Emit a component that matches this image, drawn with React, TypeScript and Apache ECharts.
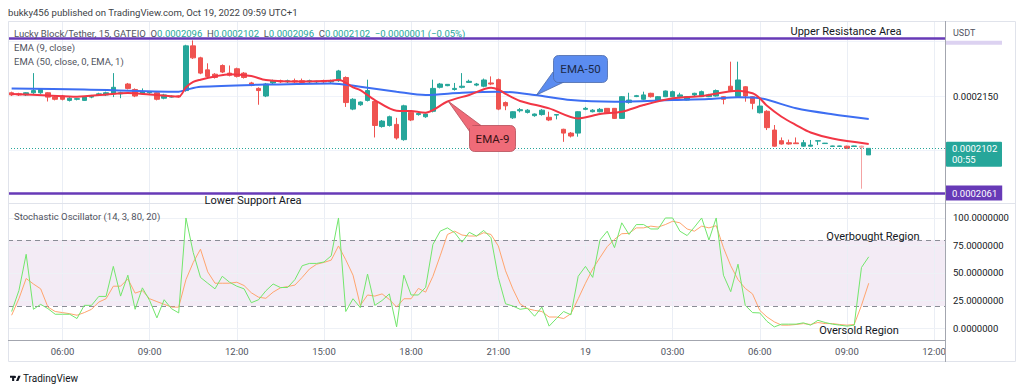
import React, { useEffect, useRef } from "react";
import * as echarts from "echarts";

// ---------- data (prices in units of 0.0000001 USDT) ----------
const N_CATS = 129; // 15-minute slots starting Oct 18 04:15
const candles: number[][] = [
  [2153, 2151, 2150, 2154], [2152, 2151, 2150, 2153], [2151, 2153, 2150, 2153.5], [2153, 2155, 2152, 2171],
  [2153, 2156, 2152, 2157], [2153, 2149, 2145, 2153.5], [2149, 2147, 2146, 2150], [2150, 2147, 2146, 2151],
  [2146, 2148, 2145, 2149], [2147, 2147.6, 2146, 2148], [2146, 2149, 2145.5, 2150], [2149, 2150, 2148, 2151],
  [2151, 2152, 2150, 2153], [2151, 2153, 2150, 2154], [2152, 2158, 2149, 2171], [2152, 2153, 2148, 2154],
  [2161, 2157, 2156, 2162], [2156, 2150, 2149, 2157], [2152, 2154, 2151, 2157], [2153, 2153.6, 2152, 2154],
  [2153, 2147, 2146, 2153.5], [2148, 2151, 2147, 2152], [2149, 2149.8, 2148.5, 2150.5], [2150, 2149.2, 2148.5, 2150.5],
  [2155, 2196, 2154, 2197], [2196, 2185, 2184, 2201], [2185, 2171, 2170, 2186], [2174, 2168, 2167, 2180],
  [2170, 2167, 2166, 2171], [2178, 2172, 2171, 2179], [2171, 2169, 2168, 2178], [2175, 2168, 2167, 2176],
  [2171, 2167, 2166, 2172], [2162, 2160, 2159, 2163], [2157, 2155, 2142, 2158], [2150, 2161, 2149, 2162],
  [2162, 2164, 2161, 2165], [2164, 2163, 2162, 2165], [2163, 2164, 2162, 2165], [2164, 2163, 2162, 2166],
  [2164, 2162.5, 2162, 2166], [2163, 2164, 2162, 2165], [2163, 2163.6, 2162, 2164], [2164, 2163, 2162, 2165],
  [2163, 2164, 2162, 2165], [2164, 2173, 2163, 2174], [2167, 2144, 2140, 2168], [2138, 2147, 2137, 2148],
  [2142, 2144.5, 2141, 2145], [2146, 2155, 2145, 2165], [2145, 2123, 2112, 2146], [2122, 2127, 2121, 2128],
  [2123, 2131, 2122, 2132], [2124, 2111.5, 2110, 2130], [2110, 2141, 2109, 2142], [2135, 2128, 2127, 2136],
  [2133, 2134, 2132, 2135], [2131, 2133.5, 2130, 2134], [2136, 2157, 2135, 2165], [2158, 2161, 2157, 2162],
  [2159.5, 2160.7, 2159, 2161], [2156, 2157, 2155, 2162], [2158, 2159, 2157, 2171], [2162.5, 2163.5, 2162, 2165],
  [2160, 2161, 2159, 2162], [2159, 2164.7, 2158, 2166], [2162, 2161, 2160, 2168], [2165, 2138, 2137, 2166],
  [2144, 2141, 2137, 2145], [2130, 2135.6, 2129, 2136], [2136.5, 2137.5, 2135, 2139], [2135, 2137, 2134, 2138],
  [2132, 2133.5, 2131, 2134], [2133, 2137, 2132, 2138], [2130.5, 2128, 2127, 2135.6], [2132.5, 2133, 2128.6, 2133.5],
  [2119.5, 2116, 2108, 2120], [2116, 2113.3, 2112, 2117], [2116, 2135.6, 2112.7, 2136], [2137.8, 2138.7, 2137, 2140],
  [2135.6, 2137, 2135, 2138], [2135.6, 2137.8, 2135, 2139], [2138.7, 2134.7, 2134, 2139], [2138.7, 2129.5, 2129, 2139],
  [2129.5, 2149.4, 2129, 2150], [2144, 2146.3, 2143, 2153], [2149.5, 2150.3, 2149, 2151], [2147, 2151, 2146, 2154],
  [2152.5, 2149.4, 2148.6, 2153], [2145.7, 2149.4, 2145, 2150], [2149.4, 2154.6, 2149, 2155], [2149.4, 2154, 2149, 2155],
  [2149.4, 2151, 2148, 2153], [2146.3, 2149.4, 2146, 2150], [2151, 2152.5, 2150, 2153], [2149.4, 2154, 2149, 2155],
  [2149.4, 2151, 2149, 2152], [2150, 2155, 2149.5, 2156], [2149.4, 2147, 2142.4, 2150], [2159, 2155, 2154, 2181.5],
  [2149.4, 2164.7, 2149, 2181.5], [2158.5, 2150, 2144.8, 2159], [2149.4, 2143.3, 2137.8, 2150], [2134.7, 2140.8, 2134, 2148],
  [2136, 2121, 2118.8, 2137], [2118.8, 2104, 2103.5, 2123.4], [2109, 2106, 2105.5, 2112], [2107.2, 2106, 2105.5, 2110],
  [2107, 2106.3, 2106, 2112], [2104, 2107.2, 2103.5, 2109.7], [2104, 2105, 2103.7, 2109.7], [2108.7, 2109, 2105, 2109.2],
  [2106.4, 2106.8, 2106.2, 2107], [2103.8, 2104.2, 2103.6, 2104.4], [2103.8, 2104.2, 2103.6, 2104.4], [2104, 2102, 2101.5, 2104.5],
  [2103.8, 2104.2, 2103.6, 2104.4], [2104, 2103, 2065, 2104.5], [2096, 2102, 2096, 2102],
];
const faintWickIdx = [117];

const ema9: number[][] = [
  [0, 2151.8], [5, 2150.5], [9, 2149.4], [13, 2151.4], [16, 2152.8], [19, 2151.4], [23, 2149.5], [24, 2158],
  [25, 2163], [26, 2165], [28, 2168], [30, 2170], [33, 2168.3], [35, 2164.7], [40, 2163.3], [44, 2164],
  [45, 2165], [47, 2158], [48, 2155.5], [50, 2146.3], [53, 2136.5], [55, 2136.2], [57, 2134.7], [58, 2137],
  [60, 2145], [63, 2151], [66, 2157.6], [67, 2156], [68, 2152], [70, 2145.5], [74, 2138.7], [78, 2129.5],
  [81, 2133.5], [84, 2135.6], [87, 2141.7], [91, 2147.9], [95, 2150], [100, 2154.9], [102, 2152.5], [103, 2148],
  [104, 2141], [106, 2131], [108, 2123.4], [110, 2116.5], [113, 2111], [118, 2106],
];

const ema50: number[][] = [
  [0, 2157], [10, 2156], [23, 2154], [24, 2155.7], [26, 2158.5], [35, 2160.5], [44, 2161.6], [48, 2158.5],
  [53, 2154], [57, 2151], [62, 2153], [67, 2154], [72, 2151], [77, 2146.3], [83, 2144.8], [91, 2146.3],
  [96, 2147.2], [100, 2148.8], [103, 2148], [108, 2138.7], [113, 2133.2], [118, 2129],
];

const stochK: number[] = [
  15, 34, 67, 17, 21.5, 17.6, 12.5, 12.5, 12.5, 8.6, 20.6, 20.6, 28.7, 28.7, 56, 29, 48, 17, 36.5, 25,
  9.2, 25.7, 17.6, 13.7, 100, 68.6, 46, 40.7, 35.6, 47, 41.6, 38, 35.6, 23, 25.7, 33.8, 40, 36.8, 36.8, 44,
  56.6, 58.7, 58.7, 60, 65.6, 100, 15, 26.6, 18.5, 49, 20.6, 25, 31, 1, 48, 30, 30, 37, 76, 88,
  91, 86.6, 78, 87, 83.6, 88.7, 82, 46, 22, 20, 17, 18, 10.7, 19, 1.7, 8.6, 15, 12, 47, 56,
  46, 80, 88, 73, 95.6, 85, 94, 94, 90, 90, 100, 100, 88, 84, 91.7, 100, 80, 100, 48, 33,
  58, 20.6, 14, 13.7, 6, 1, 3.5, 3.5, 3.5, 4.7, 2.6, 7, 5, 3.5, 2.6, 1.7, 2.6, 55, 64.7,
];

const stochD: number[] = [
  11.6, 26.6, 45, 40, 35.6, 19, 15, 14, 13, 11.6, 14, 17, 23.6, 26.6, 38, 38, 44.6, 31.7, 34, 26.6,
  24, 21.5, 19, 19, 44, 59.6, 71.6, 51, 40.7, 40.7, 40.7, 41.6, 38.6, 32, 28, 27, 32.6, 36.5, 37.7, 39,
  46, 53.6, 58, 59.6, 61.7, 74.6, 62, 48, 20.6, 30, 29, 31, 26, 19, 26.6, 26.6, 36, 32.6, 47, 65.6,
  85, 88, 84.5, 83.6, 83.6, 86.6, 85, 74.6, 52, 35.6, 22, 17.6, 16, 15, 10, 10, 8.6, 13, 26.6, 40.7,
  53.6, 64, 74, 80.6, 85.7, 86, 91, 91, 92.6, 91.7, 94, 97, 95.6, 90, 88, 92.6, 91, 93, 73, 56.6,
  44, 36, 31, 16, 10, 5.6, 2.6, 2.6, 3.2, 4, 3.2, 5, 4, 4, 3.2, 2.6, 3.2, 20.6, 40.7,
];

const timeTickIdx = [7, 19, 31, 43, 55, 67, 79, 91, 103, 115, 127];
const stochLevels = [0, 25, 50, 75, 100];
const overbought = 80;
const oversold = 20;
const resistance = 2203;
const support = 2061;
const priceLabelValue = 2150;

// ---------- helpers ----------
const categories: string[] = Array.from({ length: N_CATS }, (_, i) => {
  const mins = 4 * 60 + 15 + i * 15;
  const day = 18 + Math.floor(mins / 1440);
  const m = mins % 1440;
  const hh = String(Math.floor(m / 60)).padStart(2, "0");
  const mm = String(m % 60).padStart(2, "0");
  return `10-${day} ${hh}:${mm}`;
});
const fmt = (v: number) => (v / 1e7).toFixed(7);
const last = candles[candles.length - 1];
const prevClose = candles[candles.length - 2][1];
const change = last[1] - prevClose;
const changePct = (change / prevClose) * 100;
const minus = (v: number, d: number) => (v < 0 ? "\u2212" : "+") + Math.abs(v).toFixed(d);

const FONT = "Roboto, 'Liberation Sans', sans-serif";
const PRICE_MIN = 2051.9;
const PRICE_MAX = 2218.8;
const STOCH_MIN = -10.9;
const STOCH_MAX = 112.7;

const tvPath =
  "M14 22H7V11H0V4h14v18zM28 22h-8l7.5-18h8L28 22zM20 8a4 4 0 1 1-8 0 4 4 0 0 1 8 0z";
let registered = false;

export default function App() {
  const ref = useRef<HTMLDivElement>(null);

  useEffect(() => {
    if (!ref.current) return;
    if (!registered) {
      echarts.graphic.registerShape("tvlogo", echarts.graphic.extendPath(tvPath, {}) as any);
      registered = true;
    }
    const chart = echarts.init(ref.current, undefined, { renderer: "svg" });

    const vGrid = {
      silent: true,
      symbol: ["none", "none"],
      z: 1,
      label: { show: false },
      lineStyle: { color: "#eaeef5", width: 1, type: "solid" },
      data: timeTickIdx.map((i) => ({ xAxis: i })),
    };

    const candleData = candles.map((c, i) =>
      faintWickIdx.includes(i)
        ? { value: c, itemStyle: { color0: "#f4a3a3", borderColor0: "#f4a3a3" } }
        : c
    );

    const option: any = {
      animation: false,
      backgroundColor: "#ffffff",
      textStyle: { fontFamily: FONT },
      grid: [
        { left: 8, right: 79, top: 21, height: 182 },
        { left: 8, right: 79, top: 204, height: 136 },
      ],
      xAxis: [
        {
          type: "category", gridIndex: 0, data: categories, boundaryGap: true,
          axisLine: { show: false }, axisTick: { show: false }, axisLabel: { show: false }, splitLine: { show: false },
        },
        {
          type: "category", gridIndex: 1, data: categories, boundaryGap: true,
          axisLine: { show: false }, axisTick: { show: false }, splitLine: { show: false },
          axisLabel: {
            interval: (i: number) => timeTickIdx.includes(i),
            formatter: (v: string) => {
              const [d, t] = v.split(" ");
              return t === "00:00" ? d.split("-")[1] : t;
            },
            color: "#50535e", fontSize: 9.5, margin: 6, fontFamily: FONT,
          },
        },
      ],
      yAxis: [
        {
          type: "value", gridIndex: 0, position: "right", min: PRICE_MIN, max: PRICE_MAX, splitNumber: 3,
          axisLine: { show: false }, axisTick: { show: false },
          axisLabel: {
            formatter: (v: number) => (Math.abs(v - priceLabelValue) < 0.01 ? fmt(v) : ""),
            color: "#131722", fontSize: 9.5, margin: 8, fontFamily: FONT,
          },
          splitLine: { show: true, lineStyle: { color: "#f0f3fa" } },
        },
        {
          type: "value", gridIndex: 1, position: "right", min: STOCH_MIN, max: STOCH_MAX,
          axisLine: { show: false }, axisTick: { show: false }, axisLabel: { show: false }, splitLine: { show: false },
        },
      ],
      series: [
        {
          type: "candlestick", name: "price", xAxisIndex: 0, yAxisIndex: 0, data: candleData, barWidth: 5, z: 3,
          itemStyle: { color: "#26a69a", color0: "#ef5350", borderColor: "#26a69a", borderColor0: "#ef5350", borderWidth: 1 },
          markLine: {
            silent: true, symbol: ["none", "none"], z: 6, label: { show: false },
            data: [
              { yAxis: resistance, lineStyle: { color: "#673ab7", width: 2.5, type: "solid" } },
              {
                yAxis: support, lineStyle: { color: "#673ab7", width: 2.5, type: "solid" },
                label: {
                  show: true, position: "end", distance: 1, formatter: fmt(support), color: "#ffffff",
                  backgroundColor: "#673ab7", padding: [3, 5, 2, 6], fontSize: 9.5, fontFamily: FONT,
                },
              },
              { yAxis: last[1], lineStyle: { color: "#26a69a", width: 1, type: [1, 2] } },
            ],
          },
        },
        {
          type: "line", name: "EMA50", xAxisIndex: 0, yAxisIndex: 0, data: ema50, showSymbol: false, smooth: 0.3, z: 4,
          lineStyle: { color: "#3d6ef2", width: 2 }, markLine: vGrid,
        },
        {
          type: "line", name: "EMA9", xAxisIndex: 0, yAxisIndex: 0, data: ema9, showSymbol: false, smooth: 0.3, z: 5,
          lineStyle: { color: "#f23645", width: 2 },
        },
        {
          type: "line", name: "%K", xAxisIndex: 1, yAxisIndex: 1, data: stochK, showSymbol: false, z: 4,
          lineStyle: { color: "#72e66c", width: 1 },
          markLine: {
            silent: true, symbol: ["none", "none"], z: 2,
            data: [
              ...stochLevels.map((v) => ({
                yAxis: v, lineStyle: { color: "#eef1f6", width: 1, type: "solid" },
                label: { show: true, position: "end", distance: 8, formatter: v.toFixed(7), color: "#131722", fontSize: 9.5, fontFamily: FONT },
              })),
              ...[overbought, oversold].map((v) => ({
                yAxis: v, lineStyle: { color: "#8a8d96", width: 1, type: [5, 4] }, label: { show: false },
              })),
            ],
          },
        },
        {
          type: "line", name: "%D", xAxisIndex: 1, yAxisIndex: 1, data: stochD, showSymbol: false, z: 3,
          lineStyle: { color: "#ffa46e", width: 1 },
          markLine: vGrid,
          markArea: {
            silent: true, z: 1,
            itemStyle: { color: "rgba(165, 100, 180, 0.13)" },
            data: [[{ yAxis: oversold }, { yAxis: overbought }]],
          },
        },
      ],
    };
    chart.setOption(option);

    const yLast = chart.convertToPixel({ yAxisIndex: 0 } as any, last[1]) as number;
    const yRes = chart.convertToPixel({ yAxisIndex: 0 } as any, resistance) as number;

    const txt = (text: string, x: number, y: number, size: number, fill: string, align = "left", extra: any = {}) => ({
      type: "text", z: 100, x, y,
      style: { text, fill, fontSize: size, fontFamily: FONT, textAlign: align, textVerticalAlign: "middle", ...extra },
    });

    const graphics: any[] = [
      { type: "rect", z: 50, shape: { x: 8.5, y: 21.5, width: 1007, height: 340 }, style: { fill: "none", stroke: "#e0e3eb", lineWidth: 1 } },
      { type: "line", z: 50, shape: { x1: 8, y1: 203.5, x2: 1016, y2: 203.5 }, style: { stroke: "#e0e3eb", lineWidth: 1 } },
      { type: "line", z: 50, shape: { x1: 945.5, y1: 21, x2: 945.5, y2: 362 }, style: { stroke: "#a3a6af", lineWidth: 1 } },
      { type: "line", z: 50, shape: { x1: 8, y1: 340.5, x2: 946, y2: 340.5 }, style: { stroke: "#a3a6af", lineWidth: 1.2 } },
      // header
      txt("bukky456 published on TradingView.com, Oct 19, 2022 09:59 UTC+1", 8, 12, 9.6, "#3d3f46"),
      {
        type: "text", z: 100, x: 14, y: 33,
        style: {
          text:
            `{g|Lucky Block/Tether, 15, GATEIO}  {g|O}{t|${fmt(last[0])}}  {g|H}{t|${fmt(last[3])}}  {g|L}{t|${fmt(last[2])}}  {g|C}{t|${fmt(last[1])}}  {t|${minus(change / 1e7, 7)} (${minus(changePct, 2)}%)}`,
          fontSize: 9.5, fontFamily: FONT, textVerticalAlign: "middle",
          rich: {
            g: { fill: "#50535e", fontSize: 9.5, fontFamily: FONT },
            t: { fill: "#26a69a", fontSize: 9.5, fontFamily: FONT },
          },
        },
      },
      txt("EMA (9, close)", 14, 47, 9.5, "#50535e"),
      txt("EMA (50, close, 0, EMA, 1)", 14, 61, 9.5, "#50535e"),
      txt("Stochastic Oscillator (14, 3, 80, 20)", 14, 216.5, 9.5, "#50535e"),
      // drawing texts
      txt("Upper Resistance Area", 846, 31, 11, "#131722", "center"),
      txt("Lower Support Area", 253, 200, 11, "#131722", "center"),
      txt("Overbought Region", 873, 236, 11, "#131722", "center"),
      txt("Oversold Region", 859, 330, 11, "#131722", "center"),
      // callouts
      { type: "polygon", z: 90, shape: { points: [[536.5, 95], [553, 72], [564, 82]] }, style: { fill: "#5b8cf0", stroke: "#4b6aa8", lineWidth: 0.8 } },
      { type: "rect", z: 91, shape: { x: 553.5, y: 55.5, width: 54, height: 27, r: 5 }, style: { fill: "#5b8cf0", stroke: "#4b6aa8", lineWidth: 0.8 } },
      { type: "polygon", z: 92, shape: { points: [[553.8, 73], [564, 81.8], [557, 81.8]] }, style: { fill: "#5b8cf0" } },
      txt("EMA-50", 580.5, 69, 11.5, "#1c2a48", "center"),
      { type: "polygon", z: 90, shape: { points: [[448, 101], [470, 132], [481, 125.5]] }, style: { fill: "#ef6b78", stroke: "#b44d58", lineWidth: 0.8 } },
      { type: "rect", z: 91, shape: { x: 469.5, y: 125.5, width: 46, height: 26, r: 5 }, style: { fill: "#ef6b78", stroke: "#b44d58", lineWidth: 0.8 } },
      { type: "polygon", z: 92, shape: { points: [[470, 126], [481, 126], [470, 131.5]] }, style: { fill: "#ef6b78" } },
      txt("EMA-9", 492.5, 139, 11.5, "#3a1216", "center"),
      // price scale badges
      txt("USDT", 953, 33, 9, "#50535e"),
      { type: "rect", z: 95, shape: { x: 946, y: yRes + 2.5, width: 56, height: 4 }, style: { fill: "#dcd2f1" } },
      { type: "rect", z: 95, shape: { x: 946, y: yLast - 6.5, width: 56, height: 25, r: 1 }, style: { fill: "#26a69a" } },
      txt(fmt(last[1]), 952, yLast, 9.5, "#ffffff"),
      txt("00:55", 952, yLast + 11, 9.5, "#ffffff"),
      // footer logo
      { type: "tvlogo", z: 100, x: 10, y: 374.5, scaleX: 0.3, scaleY: 0.3, style: { fill: "#131722" } },
      txt("TradingView", 23, 378, 10, "#131722"),
    ];
    chart.setOption({ graphic: graphics });

    return () => chart.dispose();
  }, []);

  return (
    <div
      ref={ref}
      style={{ position: "absolute", left: 0, top: 0, width: 1024, height: 391, background: "#ffffff" }}
    />
  );
}
